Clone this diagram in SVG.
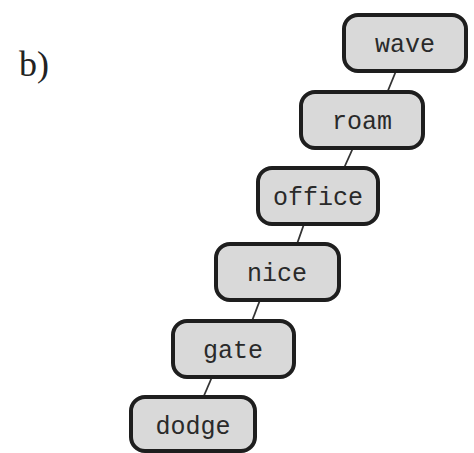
<svg xmlns="http://www.w3.org/2000/svg" width="474" height="453" viewBox="0 0 474 453">
<style>
.box{fill:#d9d9d9;stroke:#1e1e1e;stroke-width:4}
.lbl{font-family:"Liberation Mono",monospace;font-size:25px;fill:#2a2a2a;text-anchor:middle}
.edge{stroke:#333;stroke-width:1.8;fill:none}
</style>
<rect width="474" height="453" fill="#fff"/>
<text x="19" y="76" font-family="Liberation Serif,serif" font-size="36" fill="#222">b)</text>
<g id="connectors">
<line class="edge" x1="396" y1="71" x2="387" y2="93"/>
<line class="edge" x1="353" y1="148" x2="344" y2="168"/>
<line class="edge" x1="304" y1="224" x2="297" y2="244"/>
<line class="edge" x1="260" y1="300" x2="252" y2="321"/>
<line class="edge" x1="212" y1="377" x2="203" y2="398"/>
</g>
<g id="wave"><rect class="box" x="344" y="15" width="122" height="56" rx="14"/><text class="lbl" x="405" y="52">wave</text></g>
<g id="roam"><rect class="box" x="301" y="92" width="122" height="56" rx="14"/><text class="lbl" x="362" y="129">roam</text></g>
<g id="office"><rect class="box" x="258" y="168" width="120" height="56" rx="14"/><text class="lbl" x="318" y="205">office</text></g>
<g id="nice"><rect class="box" x="216" y="244" width="123" height="56" rx="14"/><text class="lbl" x="277" y="281">nice</text></g>
<g id="gate"><rect class="box" x="173" y="321" width="121" height="56" rx="14"/><text class="lbl" x="233" y="358">gate</text></g>
<g id="dodge"><rect class="box" x="131" y="397" width="124" height="54" rx="14"/><text class="lbl" x="193" y="434">dodge</text></g>
</svg>
